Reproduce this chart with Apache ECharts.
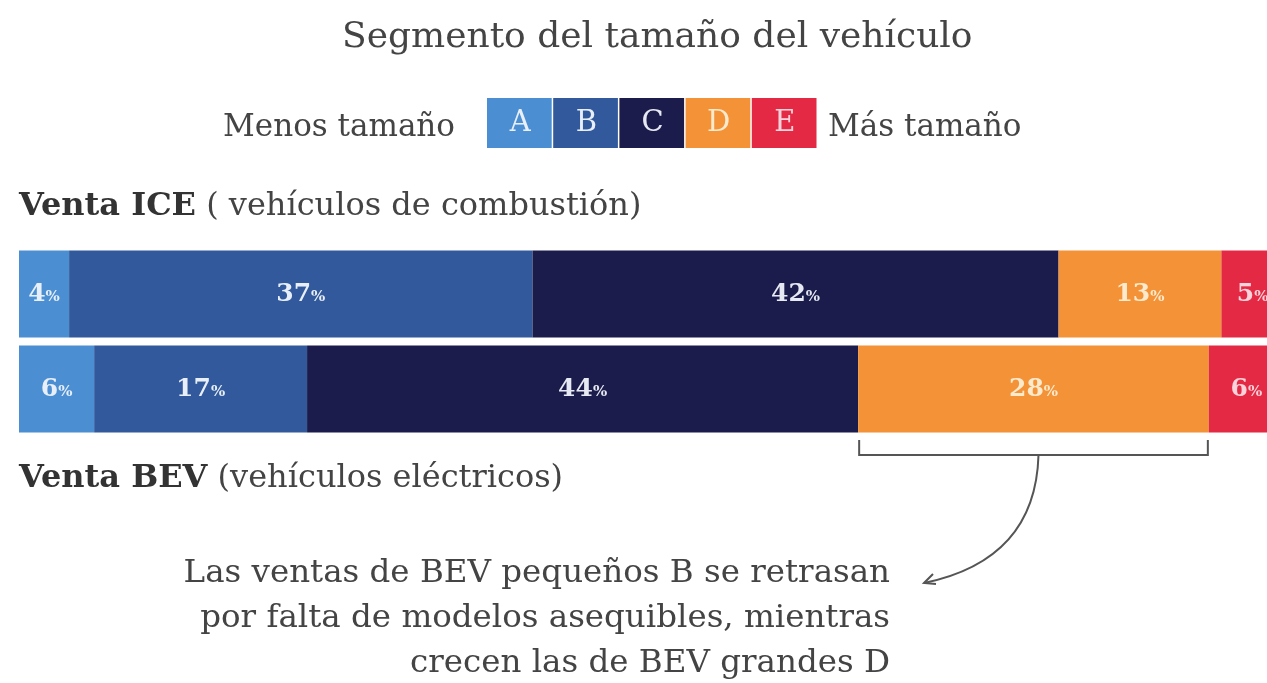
<!DOCTYPE html>
<html>
<head>
<meta charset="utf-8">
<script src="https://cdn.jsdelivr.net/npm/echarts@6/dist/echarts.min.js"></script>
<style>
html,body{margin:0;padding:0;background:#ffffff;}
#main{width:1267px;height:683px;}
</style>
</head>
<body>
<div id="main"></div>
<script>
// ---- data ----
const categories = ['ICE', 'BEV'];
const segments = ['A', 'B', 'C', 'D', 'E'];
const segA = [4, 6];
const segB = [37, 17];
const segC = [42, 44];
const segD = [13, 28];
const segE = [5, 6];
const titleText = 'Segmento del tamaño del vehículo';
const legendLeftText = 'Menos tamaño';
const legendRightText = 'Más tamaño';
const iceLabelBold = 'Venta ICE';
const iceLabelRest = ' ( vehículos de combustión)';
const bevLabelBold = 'Venta BEV';
const bevLabelRest = ' (vehículos eléctricos)';
const noteLines = ['Las ventas de BEV pequeños B se retrasan', 'por falta de modelos asequibles, mientras', 'crecen las de BEV grandes D'];

// ---- style ----
const colors = ['#4b8fd2', '#31599b', '#1b1c4b', '#f39237', '#e42944'];
const labelColors = ['#e8eff9', '#e8eff9', '#e6e8f2', '#fdeacd', '#fbd3da'];
const serif = '"DejaVu Serif", serif';
const textCol = '#444444';

const seriesData = [segA, segB, segC, segD, segE];
const chart = echarts.init(document.getElementById('main'), null, {renderer: 'canvas'});

const series = segments.map((s, i) => ({
  name: s,
  type: 'bar',
  stack: 'total',
  barWidth: 87,
  data: seriesData[i],
  itemStyle: {color: colors[i]},
  label: {
    show: true,
    position: 'inside',
    formatter: p => '{n|' + p.value + '}{p|%}',
    rich: {
      n: {fontFamily: serif, fontWeight: 'bold', fontSize: 25, color: labelColors[i]},
      p: {fontFamily: serif, fontWeight: 'bold', fontSize: 15, color: labelColors[i], padding: [6, 0, 0, 0]}
    }
  },
  silent: true
}));

chart.setOption({
  backgroundColor: '#ffffff',
  animation: false,
  grid: {left: 19, top: 246.5, width: 1265, height: 190, containLabel: false, outerBoundsMode: 'none'},
  xAxis: {type: 'value', min: 0, max: 101, show: false},
  yAxis: {type: 'category', data: categories, inverse: true, show: false},
  series: series
});

// ---- decorations (title, legend, labels, annotation) ----
const g = [];
g.push({type: 'text', x: 342, y: 20, style: {text: titleText, font: '36px ' + serif, fill: textCol}});
// legend
const boxX0 = 487, boxW = 66.2, boxY = 98, boxH = 50;
g.push({type: 'text', x: 455, y: 128, style: {text: legendLeftText, font: '31px ' + serif, fill: textCol, align: 'right', verticalAlign: 'middle'}});
segments.forEach((s, i) => {
  g.push({type: 'rect', shape: {x: boxX0 + i * boxW, y: boxY, width: boxW - 1.5, height: boxH}, style: {fill: colors[i]}});
  g.push({type: 'text', x: boxX0 + i * boxW + boxW / 2, y: boxY + boxH / 2, style: {text: s, font: '29px ' + serif, fill: labelColors[i], align: 'center', verticalAlign: 'middle'}});
});
g.push({type: 'text', x: 828, y: 128, style: {text: legendRightText, font: '31px ' + serif, fill: textCol, align: 'left', verticalAlign: 'middle'}});

// row labels
g.push({type: 'text', x: 19, y: 207, style: {
  text: '{b|' + iceLabelBold + '}{r|' + iceLabelRest + '}', verticalAlign: 'middle',
  rich: {b: {font: 'bold 32px ' + serif, fill: '#333'}, r: {font: '32px ' + serif, fill: textCol}}
}});
g.push({type: 'text', x: 19, y: 479, style: {
  text: '{b|' + bevLabelBold + '}{r|' + bevLabelRest + '}', verticalAlign: 'middle',
  rich: {b: {font: 'bold 32px ' + serif, fill: '#333'}, r: {font: '32px ' + serif, fill: textCol}}
}});

// note text
noteLines.forEach((t, i) => {
  g.push({type: 'text', x: 890, y: 574 + i * 45, style: {text: t, font: '32.5px ' + serif, fill: textCol, align: 'right', verticalAlign: 'middle'}});
});

// bracket under BEV D segment
const startD = segA[1] + segB[1] + segC[1];
const endD = startD + segD[1];
const pL = chart.convertToPixel({gridIndex: 0}, [startD, 'BEV']);
const pR = chart.convertToPixel({gridIndex: 0}, [endD, 'BEV']);
const bY0 = 440, bY1 = 455;
const lineStyle = {stroke: '#555555', lineWidth: 2, fill: null};
g.push({type: 'polyline', shape: {points: [[pL[0] + 1, bY0], [pL[0] + 1, bY1], [pR[0] - 1, bY1], [pR[0] - 1, bY0]]}, style: lineStyle});
const midX = (pL[0] + pR[0]) / 2 + 5;
const tip = [924, 583];
g.push({type: 'bezierCurve', shape: {x1: midX, y1: bY1, cpx1: midX - 3, cpy1: 560, x2: tip[0], y2: tip[1]}, style: {stroke: '#555555', lineWidth: 2, fill: null}});
g.push({type: 'polyline', shape: {points: [[tip[0] + 9, tip[1] - 9], [tip[0], tip[1]], [tip[0] + 12, tip[1] + 1]]}, style: {stroke: '#555555', lineWidth: 2, fill: null}});

chart.setOption({graphic: {elements: g}});
</script>
</body>
</html>
